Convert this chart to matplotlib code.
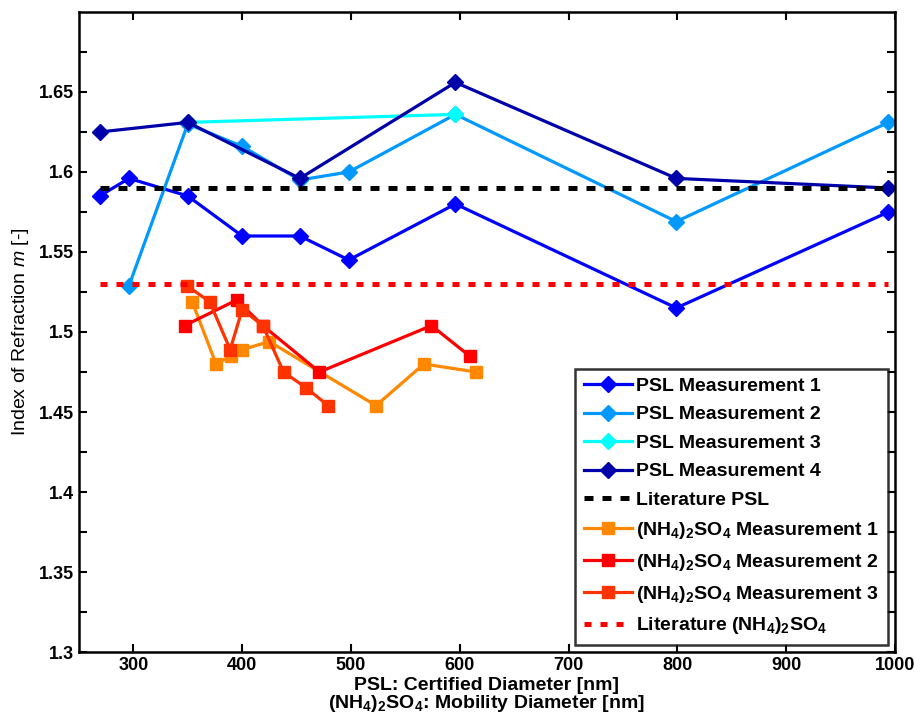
import numpy as np
import matplotlib
matplotlib.use('Agg')
import matplotlib.pyplot as plt

plt.rcParams['font.family'] = ['Liberation Sans', 'DejaVu Sans']
plt.rcParams['mathtext.fontset'] = 'custom'
plt.rcParams['mathtext.rm'] = 'Liberation Sans:bold'
plt.rcParams['mathtext.bf'] = 'Liberation Sans:bold'
plt.rcParams['mathtext.it'] = 'Liberation Sans:italic'

# PSL certified diameters [nm] and refractive indices
psl1_x = [269, 296, 350, 400, 453, 498, 596, 799, 994]
psl1_y = [1.585, 1.596, 1.585, 1.560, 1.560, 1.545, 1.580, 1.515, 1.575]
psl2_x = [296, 350, 400, 453, 498, 596, 799, 994]
psl2_y = [1.529, 1.630, 1.616, 1.595, 1.600, 1.636, 1.569, 1.631]
psl3_x = [350, 596]
psl3_y = [1.631, 1.636]
psl4_x = [269, 350, 453, 596, 799, 994]
psl4_y = [1.625, 1.631, 1.596, 1.656, 1.596, 1.590]
lit_psl_x = [269, 994]
lit_psl_y = [1.59, 1.59]

# (NH4)2SO4 mobility diameters [nm]
as1_x = [354, 376, 390, 400, 425, 523, 567, 615]
as1_y = [1.519, 1.480, 1.485, 1.489, 1.494, 1.454, 1.480, 1.475]
as2_x = [347, 395, 419, 471, 574, 609]
as2_y = [1.504, 1.520, 1.504, 1.475, 1.504, 1.485]
as3_x = [349, 370, 389, 400, 419, 438, 459, 479]
as3_y = [1.529, 1.519, 1.489, 1.514, 1.504, 1.475, 1.465, 1.454]
lit_as_x = [269, 994]
lit_as_y = [1.53, 1.53]

narrow = ['Liberation Sans Narrow', 'DejaVu Sans Condensed', 'Liberation Sans']

fig = plt.figure(figsize=(9.14, 7.26), dpi=100)
ax = fig.add_axes([0.0864, 0.1019, 0.8928, 0.8816])

lw = 2.3
ax.plot(psl1_x, psl1_y, '-D', color='#0000FF', lw=lw, ms=8.5, label='PSL Measurement 1')
ax.plot(psl2_x, psl2_y, '-D', color='#0099FF', lw=lw, ms=8.5, label='PSL Measurement 2')
ax.plot(psl3_x, psl3_y, '-D', color='#00FFFF', lw=lw, ms=8.5, label='PSL Measurement 3')
ax.plot(psl4_x, psl4_y, '-D', color='#0000AA', lw=lw, ms=8.5, label='PSL Measurement 4')
ax.plot(lit_psl_x, lit_psl_y, color='black', lw=3.6, dashes=(1.8, 1.8),
        dash_capstyle='butt', label='Literature PSL')
ax.plot(as1_x, as1_y, '-s', color='#FF8800', lw=lw, ms=8, label='(NH$_4$)$_2$SO$_4$ Measurement 1')
ax.plot(as2_x, as2_y, '-s', color='#FF0000', lw=lw, ms=8, label='(NH$_4$)$_2$SO$_4$ Measurement 2')
ax.plot(as3_x, as3_y, '-s', color='#FF3300', lw=lw, ms=8, label='(NH$_4$)$_2$SO$_4$ Measurement 3')
ax.plot(lit_as_x, lit_as_y, color='#FF0000', lw=3.6, dashes=(1.4, 1.8),
        dash_capstyle='butt', label='Literature (NH$_4$)$_2$SO$_4$')

ax.set_xlim(250, 1000)
ax.set_ylim(1.3, 1.7)
ax.set_xticks(np.arange(300, 1001, 100))
ax.set_yticks([1.3, 1.35, 1.4, 1.45, 1.5, 1.55, 1.6, 1.65])
ax.set_yticklabels(['1.3', '1.35', '1.4', '1.45', '1.5', '1.55', '1.6', '1.65'])
ax.set_yticks(np.arange(1.325, 1.7, 0.05), minor=True)
ax.tick_params(which='both', direction='in', top=True, right=True, length=6, width=1.5)
ax.tick_params(labelsize=13)
for lab in ax.get_yticklabels():
    lab.set_fontweight('bold')
for lab in ax.get_xticklabels():
    lab.set_fontweight('bold')
    lab.set_family(narrow)
for s in ax.spines.values():
    s.set_linewidth(1.8)

ax.set_xlabel('PSL: Certified Diameter [nm]\n(NH$_4$)$_2$SO$_4$: Mobility Diameter [nm]',
              fontsize=14, fontweight='bold', family=narrow,
              labelpad=2, linespacing=0.95)
ax.set_ylabel('Index of Refraction $m$ [-]', fontsize=14, family=narrow, labelpad=6)

leg = ax.legend(loc='lower right', prop={'weight': 'bold', 'size': 14},
                frameon=True, fancybox=False, edgecolor='black', handlelength=2.5,
                handletextpad=0.2, labelspacing=0.56, borderaxespad=0.35, borderpad=0.45)
leg.get_frame().set_linewidth(1.8)

fig.savefig('out.png', dpi=100)
